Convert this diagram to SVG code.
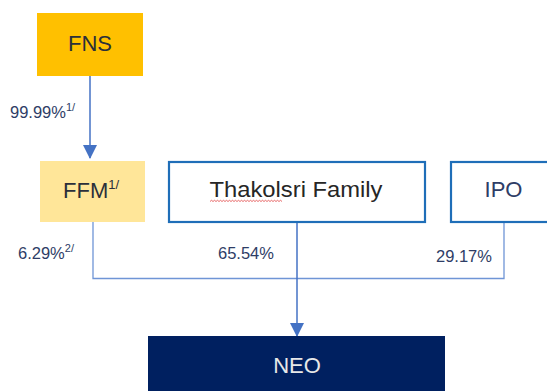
<svg xmlns="http://www.w3.org/2000/svg" width="547" height="391" viewBox="0 0 547 391">
<defs>
<marker id="arr" markerWidth="14" markerHeight="14" refX="13" refY="7" orient="auto" markerUnits="userSpaceOnUse" viewBox="0 0 14 14">
<path d="M0,0 L14,7 L0,14 Z" fill="#4472C4"/>
</marker>
<style>
.lbl{font-family:"Liberation Sans",Arial,sans-serif;font-size:16.5px;fill:#2E3D66}
.sup{font-family:"Liberation Sans",Arial,sans-serif;font-size:11px;fill:#2E3D66}
.nt{font-family:"Liberation Sans",Arial,sans-serif;font-size:22px;text-anchor:middle}
.ob{fill:#ffffff;stroke:#1F6EB8;stroke-width:2.2}
.ln{fill:none;stroke:#6F95D6;stroke-width:1.3}
.la{fill:none;stroke:#4472C4;stroke-width:1.5}
</style>
</defs>
<rect width="547" height="391" fill="#ffffff"/>
<g id="connectors">
<line class="la" x1="90" y1="76" x2="90" y2="158" marker-end="url(#arr)"/>
<polyline class="ln" points="93,222 93,278.5 504,278.5 504,222"/>
<line class="la" x1="297" y1="222" x2="297" y2="336" marker-end="url(#arr)"/>
</g>
<g id="FNS">
<rect x="37" y="13" width="106" height="63" fill="#FFC000"/>
<text class="nt" x="90" y="51" fill="#2B2F3A">FNS</text>
</g>
<g id="FFM">
<rect x="40" y="161" width="105" height="61" fill="#FFE699"/>
<text x="63" y="198" font-family="Liberation Sans,Arial,sans-serif" font-size="22" fill="#2B2F3A">FFM<tspan font-size="13" dy="-9">1/</tspan></text>
</g>
<g id="Thakolsri">
<rect class="ob" x="169" y="162" width="256" height="60"/>
<text class="nt" x="296" y="197" fill="#262626" textLength="173" lengthAdjust="spacingAndGlyphs">Thakolsri Family</text>
<path d="M210,201.5 l1.5,-1.2 l1.5,1.2 l1.5,-1.2 l1.5,1.2 l1.5,-1.2 l1.5,1.2 l1.5,-1.2 l1.5,1.2 l1.5,-1.2 l1.5,1.2 l1.5,-1.2 l1.5,1.2 l1.5,-1.2 l1.5,1.2 l1.5,-1.2 l1.5,1.2 l1.5,-1.2 l1.5,1.2 l1.5,-1.2 l1.5,1.2 l1.5,-1.2 l1.5,1.2 l1.5,-1.2 l1.5,1.2 l1.5,-1.2 l1.5,1.2 l1.5,-1.2 l1.5,1.2 l1.5,-1.2 l1.5,1.2 l1.5,-1.2 l1.5,1.2 l1.5,-1.2 l1.5,1.2 l1.5,-1.2 l1.5,1.2 l1.5,-1.2 l1.5,1.2 l1.5,-1.2 l1.5,1.2 l1.5,-1.2 l1.5,1.2 l1.5,-1.2 l1.5,1.2 l1.5,-1.2 l1.5,1.2 l1.5,-1.2 l1.5,1.2" fill="none" stroke="#E04040" stroke-width="0.8"/>
</g>
<g id="IPO">
<rect class="ob" x="451" y="162" width="110" height="60"/>
<text class="nt" x="503.5" y="197" fill="#2E3D66">IPO</text>
</g>
<g id="NEO">
<rect x="148" y="336" width="297" height="60" fill="#002060"/>
<text class="nt" x="297" y="373" fill="#E8E8E8">NEO</text>
</g>
<g id="labels">
<text class="lbl" x="10" y="118">99.99%<tspan class="sup" dy="-7">1/</tspan></text>
<text class="lbl" x="18" y="259">6.29%<tspan class="sup" dy="-7">2/</tspan></text>
<text class="lbl" x="218" y="259">65.54%</text>
<text class="lbl" x="436" y="262">29.17%</text>
</g>
</svg>
